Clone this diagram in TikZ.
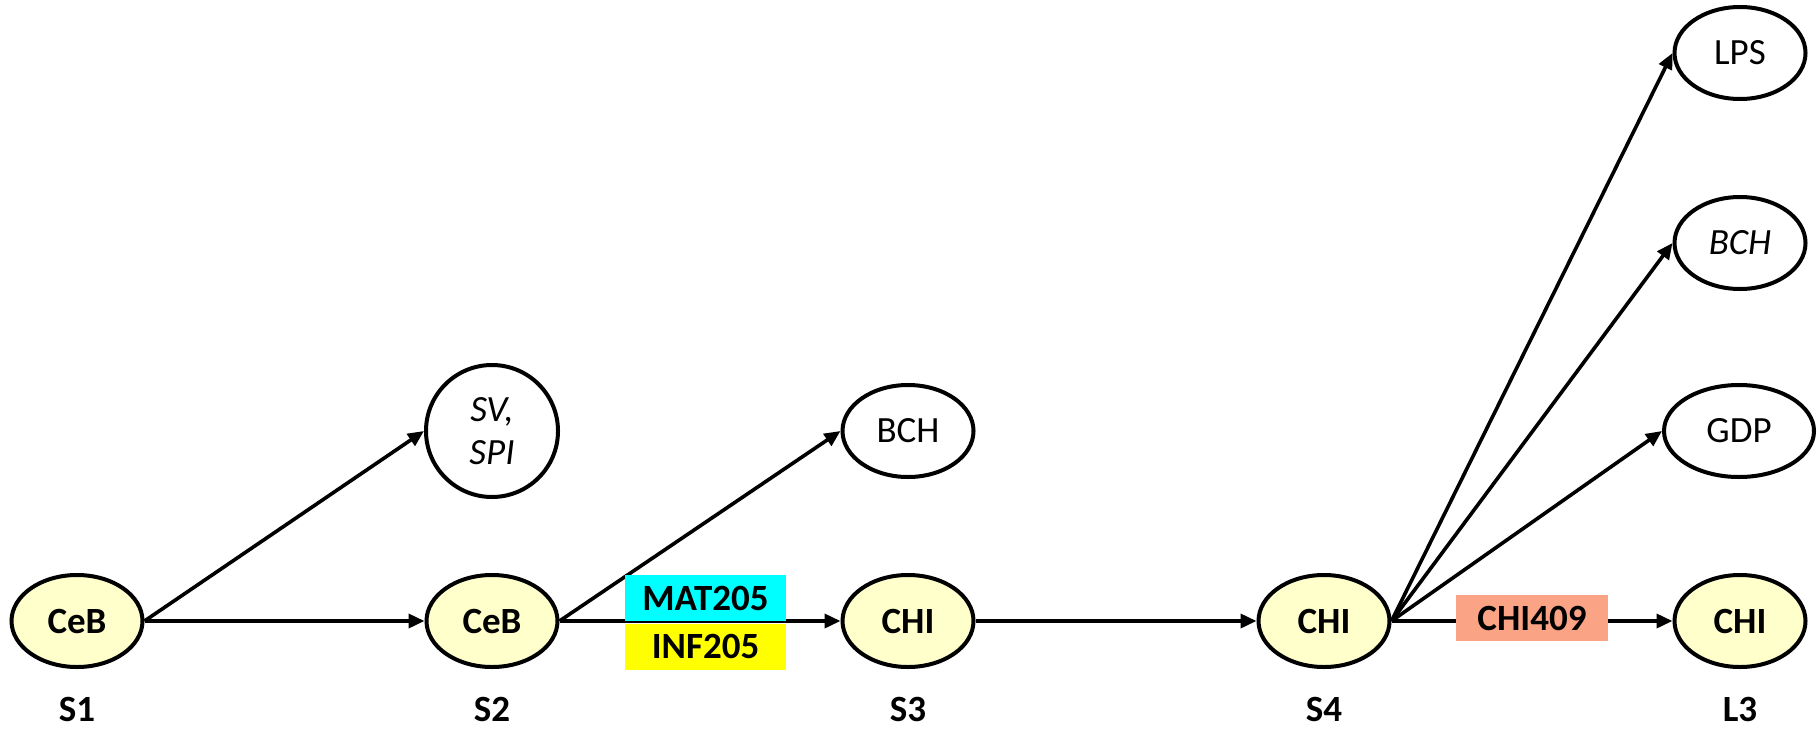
\documentclass[tikz,border=0pt]{standalone}
\usepackage{fontspec}
\setmainfont{Carlito}
\usetikzlibrary{arrows.meta,shapes.geometric}
\definecolor{nodefill}{RGB}{255,255,204}
\definecolor{salmonbox}{RGB}{250,163,133}
\definecolor{cyanbox}{RGB}{0,255,255}
\definecolor{yellowbox}{RGB}{255,255,0}
\begin{document}
\begin{tikzpicture}[x=1pt,y=-1pt,
  main/.style={ellipse,draw,line width=4pt,fill=nodefill,inner sep=0pt,minimum width=131pt,minimum height=92pt,font=\fontsize{37}{44}\selectfont\bfseries},
  opt/.style={ellipse,draw,line width=4pt,fill=white,inner sep=0pt,minimum width=131pt,minimum height=92pt,font=\fontsize{37}{44}\selectfont},
  lab/.style={inner sep=0pt,font=\fontsize{37}{44}\selectfont\bfseries},
  course/.style={inner sep=0pt,minimum width=161pt,minimum height=46pt,font=\fontsize{37}{44}\selectfont\bfseries},
  conn/.style={line width=3.6pt,-{Triangle[length=16pt,width=14pt]}}
]
\useasboundingbox (0,0) rectangle (1817,728);
\node[main] (a) at (77,621) {CeB};
\node[main] (b) at (492,621) {CeB};
\node[main] (c) at (908,621) {CHI};
\node[main] (d) at (1324,621) {CHI};
\node[main] (e) at (1740,621) {CHI};
\node[circle,draw,line width=4pt,inner sep=0pt,minimum size=132pt,align=center,font=\fontsize{37}{43}\selectfont\itshape] (sv) at (492,431) {SV,\\SPI};
\node[opt] (bch) at (908,431) {BCH};
\node[opt] (lps) at (1740,53) {LPS};
\node[opt,font=\fontsize{37}{44}\selectfont\itshape] (bchi) at (1740,243) {BCH};
\node[opt,minimum width=150pt] (gdp) at (1739,431) {GDP};
\node[lab] (s1) at (77,709) {S1};
\node[lab] (s2) at (492,709) {S2};
\node[lab] (s3) at (908,709) {S3};
\node[lab] (s4) at (1324,709) {S4};
\node[lab] (l3) at (1740,709) {L3};
\draw[conn] (a.east) -- (b.west);
\draw[conn] (a.east) -- (sv.west);
\draw[conn] (b.east) -- (c.west);
\draw[conn] (b.east) -- (bch.west);
\draw[conn] (c.east) -- (d.west);
\draw[conn] (d.east) -- (lps.west);
\draw[conn] (d.east) -- (bchi.west);
\draw[conn] (d.east) -- (gdp.west);
\draw[conn] (d.east) -- (e.west);
\node[course,fill=cyanbox] (mat) at (705.5,598) {MAT205};
\node[course,fill=yellowbox] (inf) at (705.5,646.5) {INF205};
\node[course,fill=salmonbox,minimum width=152pt] (chi409) at (1532,618) {CHI409};
\end{tikzpicture}
\end{document}
